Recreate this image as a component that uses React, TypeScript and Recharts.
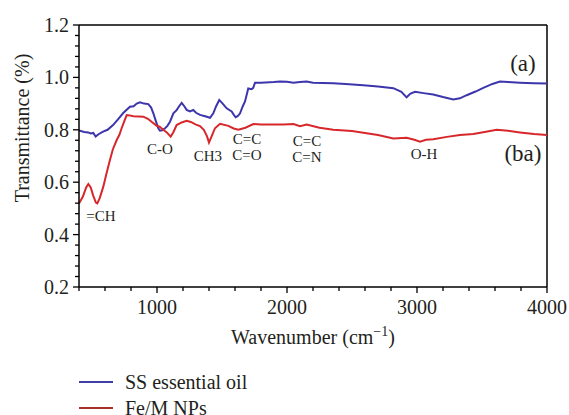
import React from 'react';
import { ComposedChart, Line, XAxis, YAxis, ReferenceLine, ReferenceDot, Legend, Label } from 'recharts';

const FONT = '"Liberation Serif", "DejaVu Serif", serif';
const TEXT = '#231f20';

// SS essential oil (blue)
const oilWave = [400, 440, 470, 490, 510, 528, 550, 585, 620, 662, 700, 740, 792, 820, 844, 870, 900, 933, 955, 972, 990, 1010, 1023, 1040, 1062, 1080, 1100, 1126, 1151, 1170, 1190, 1210, 1228, 1254, 1279, 1300, 1331, 1370, 1408, 1433, 1455, 1479, 1505, 1536, 1574, 1590, 1605, 1620, 1638, 1660, 1677, 1702, 1728, 1740, 1754, 1800, 1900, 1946, 2000, 2050, 2100, 2151, 2200, 2356, 2450, 2587, 2700, 2818, 2880, 2920, 2950, 2985, 3050, 3125, 3200, 3279, 3330, 3382, 3450, 3510, 3580, 3638, 3700, 3792, 3900, 4000];
const oilT = [0.797, 0.792, 0.79, 0.786, 0.788, 0.774, 0.783, 0.793, 0.8, 0.818, 0.84, 0.864, 0.888, 0.89, 0.9, 0.905, 0.9, 0.898, 0.885, 0.863, 0.835, 0.806, 0.797, 0.798, 0.806, 0.815, 0.831, 0.863, 0.875, 0.89, 0.903, 0.89, 0.876, 0.87, 0.876, 0.865, 0.857, 0.852, 0.846, 0.863, 0.89, 0.914, 0.9, 0.882, 0.87, 0.858, 0.848, 0.852, 0.862, 0.89, 0.908, 0.958, 0.955, 0.96, 0.98, 0.98, 0.982, 0.984, 0.983, 0.98, 0.982, 0.984, 0.98, 0.978, 0.975, 0.97, 0.965, 0.959, 0.945, 0.924, 0.938, 0.945, 0.94, 0.935, 0.925, 0.916, 0.92, 0.932, 0.946, 0.96, 0.975, 0.984, 0.982, 0.98, 0.978, 0.977];

// Fe/M NPs (red)
const npWave = [400, 430, 455, 472, 490, 510, 530, 541, 560, 587, 610, 638, 660, 690, 710, 728, 750, 767, 790, 818, 860, 895, 930, 958, 998, 1020, 1049, 1075, 1105, 1125, 1151, 1190, 1228, 1260, 1300, 1331, 1360, 1385, 1400, 1420, 1446, 1485, 1549, 1590, 1626, 1680, 1741, 1800, 1900, 1972, 2050, 2100, 2151, 2250, 2356, 2500, 2612, 2700, 2818, 2920, 2980, 3023, 3070, 3125, 3230, 3330, 3433, 3520, 3613, 3700, 3792, 3900, 4000];
const npT = [0.519, 0.545, 0.58, 0.593, 0.58, 0.548, 0.522, 0.519, 0.54, 0.583, 0.63, 0.685, 0.725, 0.761, 0.78, 0.806, 0.835, 0.856, 0.855, 0.852, 0.851, 0.85, 0.842, 0.831, 0.815, 0.812, 0.8, 0.79, 0.774, 0.79, 0.818, 0.828, 0.834, 0.83, 0.82, 0.814, 0.8, 0.775, 0.751, 0.775, 0.806, 0.823, 0.815, 0.805, 0.8, 0.808, 0.822, 0.82, 0.82, 0.82, 0.822, 0.814, 0.82, 0.808, 0.8, 0.795, 0.787, 0.78, 0.767, 0.77, 0.762, 0.755, 0.762, 0.764, 0.773, 0.78, 0.784, 0.792, 0.8, 0.796, 0.79, 0.784, 0.78];

const seriesNames = ['SS essential oil', 'Fe/M NPs'];
const seriesColors = ['#3d35ab', '#d7272b'];
const legendColors = ['#3f3ea6', '#a8302b'];

const xTicks = [400, 600, 800, 1000, 1200, 1400, 1600, 1800, 2000, 2200, 2400, 2600, 2800, 3000, 3200, 3400, 3600, 3800, 4000];
const xMajor = [1000, 2000, 3000, 4000];
const yTicks = [0.2, 0.24, 0.28, 0.32, 0.36, 0.4, 0.44, 0.48, 0.52, 0.56, 0.6, 0.64, 0.68, 0.72, 0.76, 0.8, 0.84, 0.88, 0.92, 0.96, 1.0, 1.04, 1.08, 1.12, 1.16, 1.2];
const yMajor = [0.2, 0.4, 0.6, 0.8, 1.0, 1.2];

const annotations = [
  { x: 569, y: 0.471, text: '=CH' },
  { x: 1023, y: 0.727, text: 'C-O' },
  { x: 1392, y: 0.70, text: 'CH3' },
  { x: 1692, y: 0.765, text: 'C=C' },
  { x: 1692, y: 0.706, text: 'C=O' },
  { x: 2154, y: 0.757, text: 'C=C' },
  { x: 2154, y: 0.698, text: 'C=N' },
  { x: 3054, y: 0.708, text: 'O-H' },
];
const curveLabels = [
  { x: 3815, y: 1.055, text: '(a)' },
  { x: 3815, y: 0.711, text: '(ba)' },
];

const oilData = oilWave.map((w, i) => ({ w, t: oilT[i] }));
const npData = npWave.map((w, i) => ({ w, t: npT[i] }));

const isMajor = (list: number[], v: number) => list.some((m) => Math.abs(m - v) < 1e-6);

const XTick = (props: any) => {
  const { x, y, payload } = props;
  const major = isMajor(xMajor, payload.value);
  return (
    <g>
      <line x1={x} x2={x} y1={y} y2={y + (major ? 6 : 4)} stroke="#000" strokeWidth={1.3} />
      {major && (
        <text x={x} y={y + 27} textAnchor="middle" fontSize={20} fontFamily={FONT} fill={TEXT}>
          {payload.value}
        </text>
      )}
    </g>
  );
};

const YTick = (props: any) => {
  const { x, y, payload } = props;
  const major = isMajor(yMajor, payload.value);
  return (
    <g>
      <line x1={x} x2={x - (major ? 6 : 4)} y1={y} y2={y} stroke="#000" strokeWidth={1.3} />
      {major && (
        <text x={x - 10} y={y + 7} textAnchor="end" fontSize={20} fontFamily={FONT} fill={TEXT}>
          {payload.value.toFixed(1)}
        </text>
      )}
    </g>
  );
};

const LegendContent = () => (
  <svg width={300} height={52} style={{ display: 'block', overflow: 'visible' }}>
    {seriesNames.map((name, i) => (
      <g key={name}>
        <line x1={0} x2={34} y1={13 + i * 26} y2={13 + i * 26} stroke={legendColors[i]} strokeWidth={2} />
        <text x={46} y={20 + i * 26} fontSize={20} fontFamily={FONT} fill={TEXT}>
          {name}
        </text>
      </g>
    ))}
  </svg>
);

export default function App() {
  return (
    <div style={{ position: 'absolute', left: 0, top: 0, background: '#fff', fontFamily: FONT }}>
      <ComposedChart width={569} height={415} margin={{ top: 25, right: 22, left: 0, bottom: 0 }} style={{ fontFamily: FONT }}>
        <XAxis
          dataKey="w"
          type="number"
          domain={[400, 4000]}
          ticks={xTicks}
          interval={0}
          allowDataOverflow
          height={128}
          tickSize={0}
          tickMargin={0}
          tickLine={false}
          axisLine={{ stroke: '#000', strokeWidth: 1.5 }}
          tick={<XTick />}
        >
          <Label
            content={(p: any) => {
              const vb = p.viewBox;
              return (
                <text x={vb.x + vb.width / 2} y={vb.y + 57} textAnchor="middle" fontSize={20} fontFamily={FONT} fill={TEXT}>
                  Wavenumber (cm
                  <tspan dy={-8} fontSize={14}>−1</tspan>
                  <tspan dy={8}>)</tspan>
                </text>
              );
            }}
          />
        </XAxis>
        <YAxis
          type="number"
          domain={[0.2, 1.2]}
          ticks={yTicks}
          interval={0}
          allowDataOverflow
          width={79}
          tickSize={0}
          tickMargin={0}
          tickLine={false}
          axisLine={{ stroke: '#000', strokeWidth: 1.5 }}
          tick={<YTick />}
        >
          <Label
            content={() => (
              <text
                x={22}
                y={128}
                transform="rotate(-90 22 128)"
                textAnchor="middle"
                dominantBaseline="central"
                fontSize={20}
                fontFamily={FONT}
                fill={TEXT}
              >
                Transmittance (%)
              </text>
            )}
          />
        </YAxis>
        <ReferenceLine y={1.2} stroke="#000" strokeWidth={1.5} />
        <ReferenceLine x={4000} stroke="#000" strokeWidth={1.5} />
        <Line
          data={oilData}
          dataKey="t"
          name={seriesNames[0]}
          type="linear"
          stroke={seriesColors[0]}
          strokeWidth={2}
          dot={false}
          activeDot={false}
          isAnimationActive={false}
        />
        <Line
          data={npData}
          dataKey="t"
          name={seriesNames[1]}
          type="linear"
          stroke={seriesColors[1]}
          strokeWidth={2}
          dot={false}
          activeDot={false}
          isAnimationActive={false}
        />
        {annotations.map((a, i) => (
          <ReferenceDot
            key={'a' + i}
            x={a.x}
            y={a.y}
            r={0}
            fill="none"
            stroke="none"
            label={{ value: a.text, position: 'center', fontSize: 15, fill: TEXT, fontFamily: FONT }}
          />
        ))}
        {curveLabels.map((a, i) => (
          <ReferenceDot
            key={'c' + i}
            x={a.x}
            y={a.y}
            r={0}
            fill="none"
            stroke="none"
            label={{ value: a.text, position: 'center', fontSize: 23, fill: TEXT, fontFamily: FONT }}
          />
        ))}
        <Legend
          layout="horizontal"
          verticalAlign="middle"
          align="center"
          content={<LegendContent />}
          wrapperStyle={{ left: 79, top: 369, width: 300, height: 52 }}
        />
      </ComposedChart>
    </div>
  );
}
